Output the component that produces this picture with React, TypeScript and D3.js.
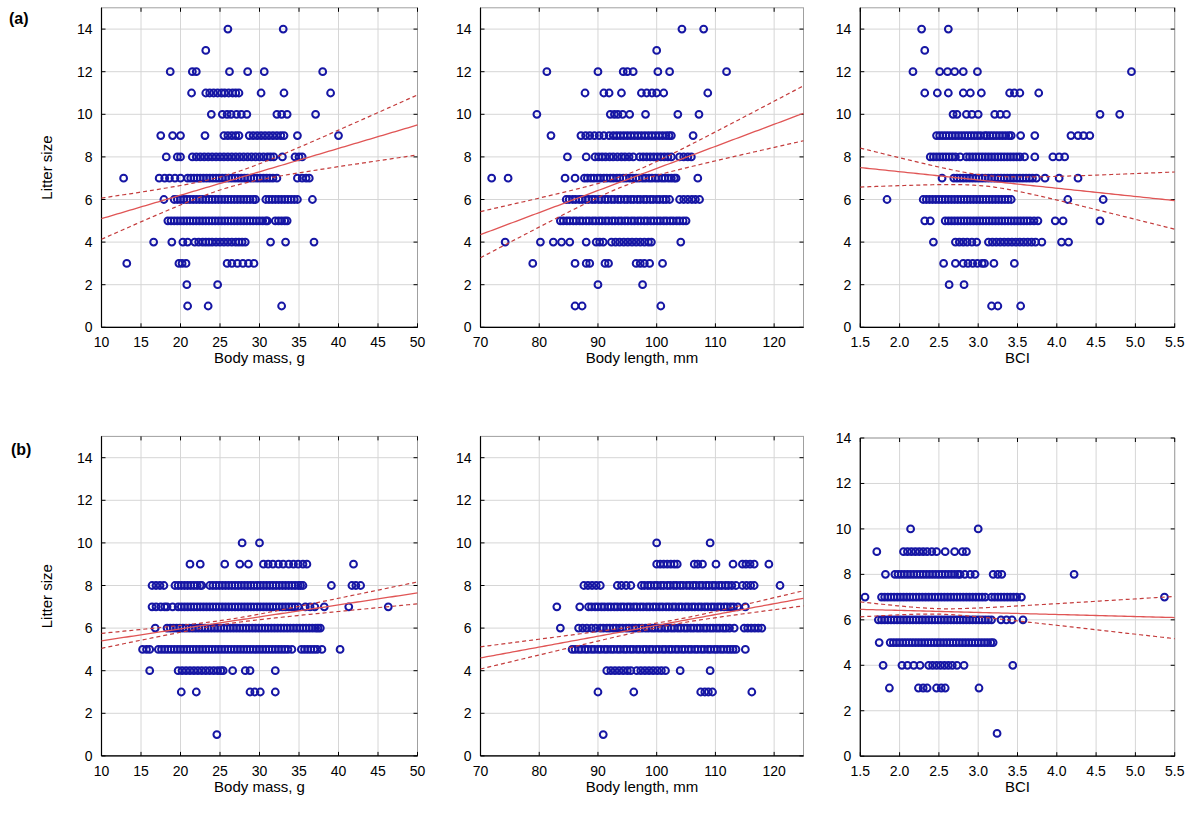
import React from 'react';
import * as d3 from 'd3';

type Rows = [number, number[]][];

// ---------- data: litter size rows, x values ----------
const massA: Rows = [
  [14, [26.0, 33.0]],
  [13, [23.2]],
  [12, [18.7, 21.5, 22.0, 26.2, 28.5, 30.6, 38.0]],
  [11, [21.4, 23.2, 23.7, 24.2, 24.7, 25.2, 25.6, 26.1, 26.6, 27.0, 27.4, 30.2, 33.1, 39.0]],
  [10, [23.9, 25.3, 25.9, 26.4, 27.1, 27.7, 28.4, 32.2, 32.8, 33.5, 37.1]],
  [9, [17.5, 19.0, 20.0, 23.1, 25.5, 26.0, 26.5, 27.0, 27.4, 28.7, 29.2, 29.7, 30.2, 30.7, 31.2, 31.7, 32.2, 32.7, 33.1, 34.8, 40.0]],
  [8, [18.2, 19.6, 20.0, 21.5, 22.0, 22.5, 23.0, 23.5, 24.0, 24.5, 25.0, 25.5, 26.0, 26.5, 27.0, 27.5, 28.0, 28.5, 29.0, 29.5, 30.0, 30.5, 31.0, 31.4, 31.8, 32.9, 34.5, 35.0, 35.4]],
  [7, [12.8, 17.3, 18.0, 18.6, 19.3, 20.0, 20.9, 21.3, 21.7, 22.1, 22.5, 22.9, 23.3, 23.7, 24.1, 24.5, 24.9, 25.3, 25.7, 26.1, 26.5, 26.9, 27.3, 27.7, 28.1, 28.5, 28.9, 29.3, 29.7, 30.1, 30.5, 30.9, 31.3, 31.7, 32.2, 34.8, 35.4, 35.9, 36.3]],
  [6, [17.9, 19.2, 19.6, 20.0, 20.4, 20.8, 21.2, 21.6, 22.0, 22.4, 22.8, 23.2, 23.6, 24.0, 24.4, 24.8, 25.2, 25.6, 26.0, 26.4, 26.8, 27.2, 27.6, 28.0, 28.4, 28.8, 29.2, 29.5, 30.8, 31.2, 31.6, 32.0, 32.4, 32.8, 33.2, 33.6, 34.0, 34.4, 34.8, 36.7]],
  [5, [18.4, 18.8, 19.2, 19.6, 20.0, 20.4, 20.8, 21.2, 21.6, 22.0, 22.4, 22.8, 23.2, 23.6, 24.0, 24.4, 24.8, 25.2, 25.6, 26.0, 26.4, 26.8, 27.2, 27.6, 28.0, 28.4, 28.8, 29.2, 29.6, 30.0, 30.4, 30.8, 31.0, 32.0, 32.4, 32.8, 33.2, 33.5]],
  [4, [16.6, 18.9, 20.3, 20.9, 21.8, 22.3, 22.8, 23.2, 23.6, 24.0, 24.5, 25.0, 25.5, 26.0, 26.5, 27.0, 27.4, 27.8, 28.2, 31.4, 33.3, 36.9]],
  [3, [13.2, 19.8, 20.2, 20.7, 25.9, 26.5, 27.2, 27.9, 28.6, 29.3]],
  [2, [20.8, 24.7]],
  [1, [20.9, 23.5, 32.8]],
];

const lengthA: Rows = [
  [14, [104.3, 108.0]],
  [13, [100.0]],
  [12, [81.3, 90.0, 94.3, 95.0, 96.0, 100.2, 102.2, 111.9]],
  [11, [87.8, 91.0, 91.9, 94.0, 97.4, 98.3, 99.2, 100.0, 101.2, 108.7]],
  [10, [79.6, 92.1, 92.8, 93.4, 94.2, 95.4, 98.1, 103.6, 107.2]],
  [9, [82.0, 87.1, 87.9, 88.6, 89.4, 90.2, 91.0, 91.9, 92.6, 93.2, 93.8, 94.4, 95.0, 95.6, 96.2, 96.8, 97.4, 98.0, 98.6, 99.2, 99.8, 100.4, 101.0, 101.6, 102.1, 102.5, 106.2]],
  [8, [84.8, 88.0, 89.5, 90.1, 90.7, 91.3, 92.0, 92.6, 93.3, 94.0, 94.6, 95.3, 96.0, 97.1, 97.7, 98.3, 98.9, 99.5, 100.1, 100.7, 101.3, 101.9, 102.5, 103.9, 104.6, 105.3, 105.9]],
  [7, [71.9, 74.7, 84.4, 86.1, 87.7, 88.2, 88.8, 89.3, 89.9, 90.4, 91.0, 91.5, 92.1, 92.6, 93.2, 93.7, 94.3, 94.8, 95.4, 95.9, 96.5, 97.0, 97.6, 98.1, 98.7, 99.2, 99.8, 100.3, 100.9, 101.4, 102.0, 102.5, 103.0, 103.3, 107.0]],
  [6, [84.6, 85.1, 85.7, 86.2, 86.8, 87.3, 87.9, 88.4, 89.0, 89.5, 90.1, 90.6, 91.2, 91.7, 92.3, 92.8, 93.4, 93.9, 94.5, 95.0, 95.6, 96.1, 96.7, 97.2, 97.8, 98.3, 98.9, 99.4, 100.0, 100.5, 101.1, 101.6, 102.2, 103.9, 104.6, 105.3, 106.0, 106.6, 107.3]],
  [5, [83.6, 84.1, 84.7, 85.2, 85.8, 86.3, 86.9, 87.4, 88.0, 88.5, 89.1, 89.6, 90.2, 90.7, 91.3, 91.8, 92.4, 92.9, 93.5, 94.0, 94.6, 95.1, 95.7, 96.2, 96.8, 97.3, 97.9, 98.4, 99.0, 99.5, 100.1, 100.6, 101.2, 101.7, 102.3, 102.8, 103.4, 103.9, 104.5, 105.0]],
  [4, [74.2, 80.2, 82.4, 83.8, 85.2, 88.0, 89.7, 90.3, 90.9, 92.3, 93.0, 93.7, 94.4, 95.1, 95.8, 96.5, 97.2, 97.9, 98.6, 99.1, 104.1]],
  [3, [78.9, 86.1, 88.0, 88.6, 91.2, 91.8, 96.5, 97.2, 97.9, 98.8, 101.0]],
  [2, [90.0, 97.6]],
  [1, [86.1, 87.3, 100.7]],
];

const bciA: Rows = [
  [14, [2.28, 2.62]],
  [13, [2.32]],
  [12, [2.17, 2.51, 2.61, 2.70, 2.81, 2.99, 4.95]],
  [11, [2.32, 2.48, 2.62, 2.81, 2.90, 3.04, 3.40, 3.46, 3.53, 3.77]],
  [10, [2.68, 2.73, 2.85, 2.92, 3.00, 3.21, 3.28, 3.36, 4.55, 4.80]],
  [9, [2.47, 2.51, 2.55, 2.59, 2.63, 2.67, 2.71, 2.75, 2.79, 2.83, 2.87, 2.91, 2.95, 2.99, 3.03, 3.08, 3.11, 3.15, 3.19, 3.23, 3.27, 3.31, 3.35, 3.39, 3.42, 3.54, 3.72, 4.18, 4.27, 4.34, 4.42]],
  [8, [2.39, 2.43, 2.47, 2.51, 2.55, 2.59, 2.63, 2.67, 2.71, 2.77, 2.85, 2.89, 2.93, 2.97, 3.01, 3.05, 3.09, 3.13, 3.17, 3.21, 3.25, 3.29, 3.33, 3.37, 3.41, 3.45, 3.49, 3.53, 3.59, 3.72, 3.95, 4.03, 4.10]],
  [7, [2.54, 2.69, 2.73, 2.77, 2.81, 2.85, 2.89, 2.93, 2.97, 3.01, 3.05, 3.09, 3.13, 3.17, 3.21, 3.25, 3.29, 3.33, 3.37, 3.41, 3.45, 3.49, 3.53, 3.57, 3.61, 3.65, 3.69, 3.74, 3.85, 4.03, 4.27]],
  [6, [1.84, 2.30, 2.34, 2.38, 2.42, 2.46, 2.50, 2.54, 2.58, 2.62, 2.66, 2.70, 2.74, 2.78, 2.82, 2.86, 2.90, 2.94, 2.98, 3.02, 3.06, 3.10, 3.14, 3.18, 3.22, 3.26, 3.30, 3.34, 3.38, 3.42, 4.14, 4.59]],
  [5, [2.32, 2.39, 2.58, 2.62, 2.66, 2.70, 2.74, 2.78, 2.82, 2.86, 2.90, 2.94, 2.98, 3.02, 3.06, 3.10, 3.14, 3.18, 3.22, 3.26, 3.30, 3.34, 3.38, 3.42, 3.46, 3.50, 3.54, 3.58, 3.62, 3.66, 3.71, 3.76, 3.98, 4.08, 4.55]],
  [4, [2.43, 2.71, 2.76, 2.81, 2.86, 2.92, 2.98, 3.13, 3.18, 3.23, 3.28, 3.33, 3.38, 3.43, 3.48, 3.53, 3.58, 3.63, 3.68, 3.73, 3.81, 4.06, 4.15]],
  [3, [2.56, 2.71, 2.81, 2.87, 2.93, 2.99, 3.05, 3.08, 3.20, 3.46]],
  [2, [2.63, 2.82]],
  [1, [3.17, 3.25, 3.54]],
];

const massB: Rows = [
  [10, [27.8, 30.0]],
  [9, [21.2, 22.5, 25.6, 27.5, 28.6, 30.5, 31.1, 31.7, 32.4, 33.0, 33.7, 34.3, 34.9, 35.5, 36.0, 41.9]],
  [8, [16.4, 16.9, 17.4, 17.9, 19.3, 19.7, 20.1, 20.5, 20.9, 21.3, 21.7, 22.1, 22.5, 22.7, 23.7, 24.1, 24.5, 24.9, 25.3, 25.7, 26.1, 26.5, 26.9, 27.3, 27.7, 28.1, 28.5, 28.9, 29.3, 29.7, 30.1, 30.5, 30.9, 31.3, 31.7, 32.1, 32.5, 32.9, 33.3, 33.7, 34.1, 34.5, 34.9, 35.2, 35.5, 39.1, 41.7, 42.2, 42.8]],
  [7, [16.4, 16.9, 17.5, 18.0, 18.3, 19.0, 19.7, 20.1, 20.5, 20.9, 21.3, 21.7, 22.1, 22.5, 22.9, 23.3, 23.7, 24.1, 24.5, 24.9, 25.3, 25.7, 26.1, 26.5, 26.9, 27.3, 27.7, 28.1, 28.5, 28.9, 29.3, 29.7, 30.1, 30.5, 30.9, 31.3, 31.7, 32.1, 32.5, 32.9, 33.3, 33.7, 34.1, 34.5, 34.9, 35.8, 36.4, 37.0, 38.2, 41.3, 46.3]],
  [6, [16.8, 18.3, 18.7, 19.1, 19.5, 19.9, 20.3, 20.7, 21.1, 21.5, 21.9, 22.3, 22.7, 23.1, 23.5, 23.9, 24.3, 24.7, 25.1, 25.5, 25.9, 26.3, 26.7, 27.1, 27.5, 27.9, 28.3, 28.7, 29.1, 29.5, 29.9, 30.3, 30.7, 31.1, 31.5, 31.9, 32.3, 32.7, 33.1, 33.5, 33.9, 34.3, 34.7, 35.1, 35.5, 35.9, 36.3, 36.7, 37.1, 37.4, 37.7]],
  [5, [15.2, 15.7, 16.1, 17.2, 17.6, 18.0, 18.4, 18.8, 19.2, 19.6, 20.0, 20.4, 20.8, 21.2, 21.6, 22.0, 22.4, 22.8, 23.2, 23.6, 24.0, 24.4, 24.8, 25.2, 25.6, 26.0, 26.4, 26.8, 27.2, 27.6, 28.0, 28.4, 28.8, 29.2, 29.6, 30.0, 30.4, 30.8, 31.2, 31.6, 32.0, 32.4, 32.8, 33.2, 33.6, 34.1, 35.3, 35.7, 36.1, 36.5, 36.9, 37.3, 37.9, 40.2]],
  [4, [16.1, 19.7, 20.2, 20.7, 21.2, 21.7, 22.2, 22.7, 23.2, 23.7, 24.2, 24.7, 25.1, 25.4, 26.6, 28.2, 28.8, 32.0]],
  [3, [20.1, 22.0, 28.8, 29.4, 30.1, 32.0]],
  [1, [24.6]],
];

const lengthB: Rows = [
  [10, [100.0, 109.1]],
  [9, [100.0, 100.6, 101.2, 101.8, 102.4, 103.0, 103.5, 106.4, 107.0, 107.8, 110.1, 113.0, 114.6, 115.2, 115.9, 116.6, 119.1]],
  [8, [87.6, 88.3, 89.0, 89.7, 90.4, 93.3, 94.0, 94.8, 95.6, 97.4, 97.9, 98.5, 99.0, 99.6, 100.1, 100.7, 101.2, 101.8, 102.3, 102.9, 103.4, 104.0, 104.5, 105.1, 105.6, 106.2, 106.7, 107.3, 107.8, 108.4, 108.9, 109.5, 110.0, 110.6, 111.1, 111.7, 112.2, 112.8, 113.5, 114.6, 115.3, 116.0, 116.6, 121.0]],
  [7, [83.0, 86.9, 88.4, 88.9, 89.5, 90.0, 90.6, 91.1, 91.7, 92.2, 92.8, 93.3, 93.9, 94.4, 95.0, 95.5, 96.1, 96.6, 97.2, 97.7, 98.3, 98.8, 99.4, 99.9, 100.5, 101.0, 101.6, 102.1, 102.7, 103.2, 103.8, 104.3, 104.9, 105.4, 106.0, 106.5, 107.1, 107.6, 108.2, 108.7, 109.3, 109.8, 110.4, 110.9, 111.5, 112.0, 112.6, 113.1, 113.8, 115.1]],
  [6, [83.6, 86.7, 87.4, 88.1, 88.9, 89.6, 90.4, 90.9, 91.5, 92.0, 92.6, 93.1, 93.7, 94.2, 94.8, 95.3, 95.9, 96.4, 97.0, 97.5, 98.1, 98.6, 99.2, 99.7, 100.3, 100.8, 101.4, 101.9, 102.5, 103.0, 103.6, 104.1, 104.7, 105.2, 105.8, 106.3, 106.9, 107.4, 108.0, 108.5, 109.1, 109.6, 110.2, 110.7, 111.3, 111.8, 112.4, 113.2, 114.9, 115.5, 116.1, 116.7, 117.3, 117.9]],
  [5, [85.6, 86.1, 86.7, 87.2, 87.8, 88.3, 88.9, 89.4, 90.0, 90.5, 91.1, 91.6, 92.2, 92.7, 93.3, 93.8, 94.4, 94.9, 95.5, 96.0, 96.6, 97.1, 97.7, 98.2, 98.8, 99.3, 99.9, 100.4, 101.0, 101.5, 102.1, 102.6, 103.2, 103.7, 104.3, 104.8, 105.4, 105.9, 106.5, 107.0, 107.6, 108.1, 108.7, 109.2, 109.8, 110.3, 110.9, 111.4, 112.0, 112.5, 113.0, 113.5, 115.1]],
  [4, [91.5, 92.2, 92.9, 93.6, 94.3, 95.0, 95.6, 96.6, 97.3, 98.0, 98.7, 99.4, 100.1, 100.8, 101.5, 104.0, 109.1]],
  [3, [90.0, 96.1, 107.5, 108.2, 108.8, 109.5, 116.2]],
  [1, [90.9]],
];

const bciB: Rows = [
  [10, [2.14, 3.00]],
  [9, [1.71, 2.05, 2.10, 2.15, 2.20, 2.25, 2.30, 2.35, 2.41, 2.47, 2.58, 2.70, 2.80, 2.85]],
  [8, [1.82, 1.94, 1.98, 2.02, 2.06, 2.10, 2.14, 2.18, 2.22, 2.26, 2.30, 2.34, 2.38, 2.42, 2.46, 2.50, 2.54, 2.58, 2.62, 2.66, 2.70, 2.74, 2.77, 2.83, 2.90, 2.96, 3.19, 3.25, 3.30, 4.22]],
  [7, [1.56, 1.77, 1.81, 1.85, 1.89, 1.93, 1.97, 2.01, 2.05, 2.09, 2.13, 2.17, 2.21, 2.25, 2.29, 2.33, 2.37, 2.41, 2.45, 2.49, 2.53, 2.57, 2.61, 2.65, 2.69, 2.73, 2.77, 2.81, 2.85, 2.89, 2.93, 2.97, 3.01, 3.05, 3.09, 3.17, 3.21, 3.25, 3.29, 3.33, 3.37, 3.41, 3.45, 3.49, 3.55, 5.37]],
  [6, [1.73, 1.77, 1.81, 1.85, 1.89, 1.93, 1.97, 2.01, 2.05, 2.09, 2.13, 2.17, 2.21, 2.25, 2.29, 2.33, 2.37, 2.41, 2.45, 2.49, 2.53, 2.57, 2.61, 2.65, 2.69, 2.73, 2.77, 2.81, 2.85, 2.89, 2.93, 2.97, 3.01, 3.05, 3.09, 3.13, 3.17, 3.29, 3.36, 3.43, 3.57]],
  [5, [1.74, 1.88, 1.92, 1.96, 2.00, 2.04, 2.08, 2.12, 2.16, 2.20, 2.24, 2.28, 2.32, 2.36, 2.40, 2.44, 2.48, 2.52, 2.56, 2.60, 2.64, 2.68, 2.72, 2.76, 2.80, 2.84, 2.88, 2.92, 2.96, 3.00, 3.04, 3.08, 3.12, 3.16, 3.19]],
  [4, [1.79, 2.03, 2.10, 2.18, 2.26, 2.37, 2.42, 2.47, 2.52, 2.57, 2.62, 2.67, 2.73, 2.82, 3.44]],
  [3, [1.87, 2.24, 2.30, 2.35, 2.47, 2.53, 2.58, 3.01]],
  [1, [3.24]],
];

// fit lines: [intercept, slope, xMean, minHalfWidth, halfWidthSlope]
const fitMassA = [4.0, 0.11, 26, 0.3, 0.0574];
const fitLengthA = [-2.902, 0.1036, 95, 0.25, 0.0422];
const fitBciA = [8.08, -0.3875, 3.1, 0.25, 0.55];
const fitMassB = [4.84, 0.05625, 26, 0.1, 0.021];
const fitLengthB = [1.037, 0.0509, 103, 0.1, 0.0155];
const fitBciB = [6.595, -0.09, 2.5, 0.12, 0.307];

// tick labels
const ticksMass = [10, 15, 20, 25, 30, 35, 40, 45, 50];
const ticksLength = [70, 80, 90, 100, 110, 120];
const ticksBci = [1.5, 2.0, 2.5, 3.0, 3.5, 4.0, 4.5, 5.0, 5.5];
const ticksLitter = [0, 2, 4, 6, 8, 10, 12, 14];

const FONT = "'Liberation Sans', Arial, Helvetica, sans-serif";
const POINT = '#1616a4';

type PanelProps = {
  rows: Rows; fit: number[]; xDomain: [number, number]; yMax: number;
  xTicks: number[]; fmt: (d: number) => string;
  left: number; right: number; top: number; bottom: number;
  xTitle: string; yTitle?: boolean;
};

function Panel(p: PanelProps) {
  const x = d3.scaleLinear().domain(p.xDomain).range([p.left, p.right]);
  const y = d3.scaleLinear().domain([0, p.yMax]).range([p.bottom, p.top]);
  const [b0, b1, xm, h0, k] = p.fit;
  const xs = d3.range(0, 101).map(i => p.xDomain[0] + (p.xDomain[1] - p.xDomain[0]) * i / 100);
  const hw = (v: number) => Math.sqrt(h0 * h0 + (k * (v - xm)) ** 2);
  const mid = d3.line<number>().x(v => x(v)).y(v => y(b0 + b1 * v))(xs) || '';
  const up = d3.line<number>().x(v => x(v)).y(v => y(b0 + b1 * v + hw(v)))(xs) || '';
  const lo = d3.line<number>().x(v => x(v)).y(v => y(b0 + b1 * v - hw(v)))(xs) || '';
  const pts: [number, number][] = [];
  p.rows.forEach(([ly, xsRow]) => xsRow.forEach(v => pts.push([v, ly])));
  const cy = (p.top + p.bottom) / 2;
  return (
    <g>
      {p.xTicks.map(t => (
        <line key={'gx' + t} x1={x(t)} x2={x(t)} y1={p.top} y2={p.bottom} stroke="#d6d6d6" strokeWidth={1} />
      ))}
      {ticksLitter.map(t => (
        <line key={'gy' + t} x1={p.left} x2={p.right} y1={y(t)} y2={y(t)} stroke="#d6d6d6" strokeWidth={1} />
      ))}
      <rect x={p.left} y={p.top} width={p.right - p.left} height={p.bottom - p.top} fill="none" stroke="#a0a0a0" strokeWidth={1} />
      <line x1={p.left} x2={p.left} y1={p.top} y2={p.bottom} stroke="#000" strokeWidth={1.2} />
      <line x1={p.left} x2={p.right} y1={p.bottom} y2={p.bottom} stroke="#000" strokeWidth={1.2} />
      {p.xTicks.map(t => (
        <g key={'tx' + t}>
          <line x1={x(t)} x2={x(t)} y1={p.bottom} y2={p.bottom - 4} stroke="#000" />
          <line x1={x(t)} x2={x(t)} y1={p.top} y2={p.top + 4} stroke="#000" />
          <text x={x(t)} y={p.bottom + 20} textAnchor="middle" fontSize={14} fontFamily={FONT} fill="#000">{p.fmt(t)}</text>
        </g>
      ))}
      {ticksLitter.map(t => (
        <g key={'ty' + t}>
          <line x1={p.left} x2={p.left + 4} y1={y(t)} y2={y(t)} stroke="#000" />
          <line x1={p.right} x2={p.right - 4} y1={y(t)} y2={y(t)} stroke="#000" />
          <text x={p.left - 9} y={y(t) + 5} textAnchor="end" fontSize={14} fontFamily={FONT} fill="#000">{t}</text>
        </g>
      ))}
      {pts.map((d, i) => (
        <circle key={i} cx={x(d[0])} cy={y(d[1])} r={3.4} fill="none" stroke={POINT} strokeWidth={2} />
      ))}
      <path d={up} fill="none" stroke="#c43c3c" strokeWidth={1.2} strokeDasharray="4,3" />
      <path d={lo} fill="none" stroke="#c43c3c" strokeWidth={1.2} strokeDasharray="4,3" />
      <path d={mid} fill="none" stroke="#e05555" strokeWidth={1.3} />
      <text x={(p.left + p.right) / 2} y={p.bottom + 36} textAnchor="middle" fontSize={15} fontFamily={FONT} fill="#000">{p.xTitle}</text>
      {p.yTitle && (
        <text transform={`translate(52,${cy}) rotate(-90)`} textAnchor="middle" fontSize={15} fontFamily={FONT} fill="#000">Litter size</text>
      )}
    </g>
  );
}

const f0 = (d: number) => String(d);
const f1 = (d: number) => d.toFixed(1);

export default function App() {
  const rowA = { top: 7.8, bottom: 327.3 };
  const rowB = { top: 436.4, bottom: 755.9 };
  const c1 = { left: 101.5, right: 417.5 };
  const c2 = { left: 480.5, right: 803.5 };
  const c3 = { left: 860.3, right: 1174.7 };
  return (
    <svg width={1197} height={827} style={{ position: 'absolute', left: 0, top: 0, background: '#fff' }}>
      <rect width={1197} height={827} fill="#fff" />
      <Panel rows={massA} fit={fitMassA} xDomain={[10, 50]} yMax={15} xTicks={ticksMass} fmt={f0} {...c1} {...rowA} xTitle="Body mass, g" yTitle />
      <Panel rows={lengthA} fit={fitLengthA} xDomain={[70, 125]} yMax={15} xTicks={ticksLength} fmt={f0} {...c2} {...rowA} xTitle="Body length, mm" />
      <Panel rows={bciA} fit={fitBciA} xDomain={[1.5, 5.5]} yMax={15} xTicks={ticksBci} fmt={f1} {...c3} {...rowA} xTitle="BCI" />
      <Panel rows={massB} fit={fitMassB} xDomain={[10, 50]} yMax={15} xTicks={ticksMass} fmt={f0} {...c1} {...rowB} xTitle="Body mass, g" yTitle />
      <Panel rows={lengthB} fit={fitLengthB} xDomain={[70, 125]} yMax={15} xTicks={ticksLength} fmt={f0} {...c2} {...rowB} xTitle="Body length, mm" />
      <Panel rows={bciB} fit={fitBciB} xDomain={[1.5, 5.5]} yMax={14} xTicks={ticksBci} fmt={f1} {...c3} top={438} bottom={756.2} xTitle="BCI" />
      <text x={9} y={24} fontSize={16} fontWeight="bold" fontFamily={FONT}>(a)</text>
      <text x={11} y={455} fontSize={16} fontWeight="bold" fontFamily={FONT}>(b)</text>
    </svg>
  );
}
